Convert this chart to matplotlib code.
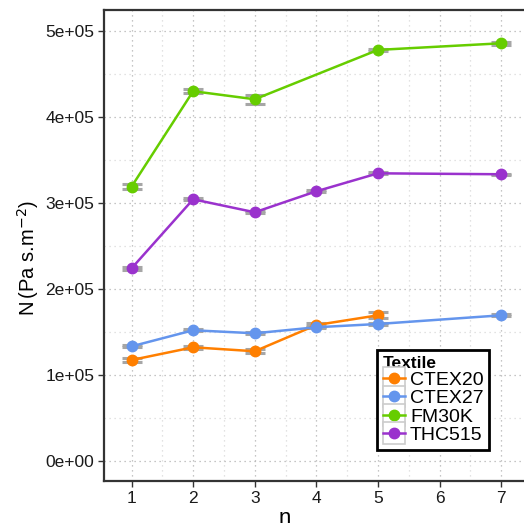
"""N vs n per textile, with error bars (ggplot-style look)."""
import matplotlib
matplotlib.use("Agg")
import matplotlib.pyplot as plt
from matplotlib.lines import Line2D
from matplotlib.patches import Rectangle
from matplotlib.legend_handler import HandlerLine2D

plt.rcParams['font.family'] = ['Liberation Sans', 'DejaVu Sans']

textiles = ['CTEX20', 'CTEX27', 'FM30K', 'THC515']
colors = ['#FF7F00', '#6495ED', '#66CD00', '#9A32CD']

n_ctex20 = [1, 2, 3, 4, 5]
N_ctex20 = [117400, 132200, 127600, 158100, 169400]
err_ctex20 = [1800, 1800, 2300, 1800, 3300]

n_ctex27 = [1, 2, 3, 4, 5, 7]
N_ctex27 = [133300, 152000, 148500, 155500, 159300, 169400]
err_ctex27 = [1200, 1200, 1200, 1200, 1200, 1000]

n_fm30k = [1, 2, 3, 5, 7]
N_fm30k = [319000, 430000, 420600, 478000, 485700]
err_fm30k = [2700, 2500, 5400, 1600, 1700]

n_thc515 = [1, 2, 3, 4, 5, 7]
N_thc515 = [224000, 304300, 289200, 313600, 334500, 333400]
err_thc515 = [1700, 1200, 1200, 1200, 1200, 600]

series = [
    (n_ctex20, N_ctex20, err_ctex20),
    (n_ctex27, N_ctex27, err_ctex27),
    (n_fm30k, N_fm30k, err_fm30k),
    (n_thc515, N_thc515, err_thc515),
]

fig = plt.figure(figsize=(5.24, 5.23), dpi=100)
ax = fig.add_axes([104/524, 42/523, (529.8-104)/524, 471/523])

for (x, y, e), c in zip(series, colors):
    ax.errorbar(x, y, yerr=e, fmt='none', ecolor='#a6a6a6', elinewidth=2,
                capsize=7, capthick=2.2, zorder=2)
    ax.plot(x, y, color=c, lw=1.8, marker='o', ms=7.5, zorder=3)

ax.set_xlim(0.553, 7.465)
ax.set_ylim(-23260, 524400)
ax.set_xticks([1, 2, 3, 4, 5, 6, 7])
ax.set_xticks([1.5, 2.5, 3.5, 4.5, 5.5, 6.5], minor=True)
yt = [0, 100000, 200000, 300000, 400000, 500000]
ax.set_yticks(yt)
ax.set_yticklabels(['0e+00', '1e+05', '2e+05', '3e+05', '4e+05', '5e+05'])
ax.set_yticks([50000, 150000, 250000, 350000, 450000], minor=True)

ax.grid(which='major', color='#b3b3b3', ls=(0, (1, 3)), lw=0.9)
ax.grid(which='minor', color='#d9d9d9', ls=(0, (1, 3)), lw=0.9)
ax.set_axisbelow(True)
ax.tick_params(which='major', direction='out', length=4, width=1,
               color='#333333', labelsize=12.5, labelcolor='#1a1a1a', pad=3)
ax.tick_params(which='minor', length=0)
for s in ['left', 'top', 'bottom']:
    ax.spines[s].set_color('#333333')
    ax.spines[s].set_linewidth(1.6)
ax.spines['right'].set_visible(False)

ax.set_xlabel('n', fontsize=16)
ax.xaxis.set_label_coords(0.425, -0.058)
ax.set_ylabel(r'N$\,$(Pa s.m$^{-2}$)', fontsize=14.5)
ax.yaxis.set_label_coords(-0.147, 0.473)


class KeyHandler(HandlerLine2D):
    def create_artists(self, legend, orig_handle, xdescent, ydescent,
                       width, height, fontsize, trans):
        arts = super().create_artists(legend, orig_handle, xdescent, ydescent,
                                      width, height, fontsize, trans)
        box = Rectangle((-xdescent, -ydescent - 3), width, height + 6,
                        facecolor='white', edgecolor='#cccccc', lw=1.2,
                        transform=trans, zorder=0)
        return [box] + arts


handles = [Line2D([], [], color=c, lw=1.8, marker='o', ms=7.5) for c in colors]
leg = ax.legend(handles, textiles, title='Textile', loc='lower left',
                bbox_to_anchor=(0.641, 0.066), borderaxespad=0, fontsize=14,
                title_fontproperties={'weight': 'bold', 'size': 12.5},
                alignment='left', frameon=True, fancybox=False,
                edgecolor='black', framealpha=1, handlelength=1.15,
                handletextpad=0.25, labelspacing=0.04, borderpad=0.3,
                handler_map={Line2D: KeyHandler()})
leg.get_frame().set_linewidth(2)

fig.savefig('out.png', dpi=100)
